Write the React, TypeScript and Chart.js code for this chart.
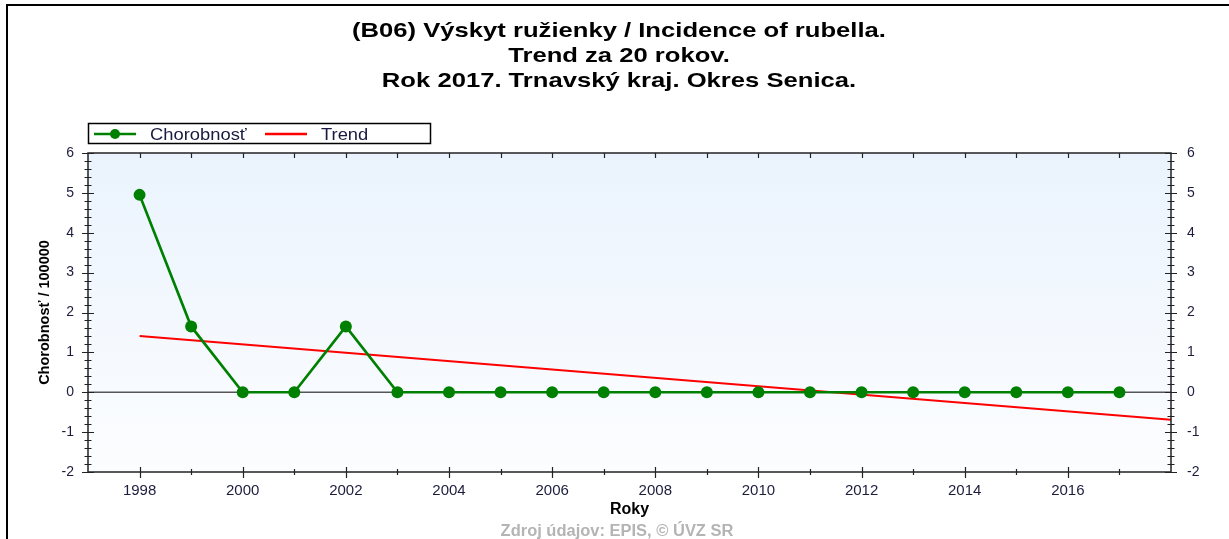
import React, { useEffect, useRef } from "react";
import { Chart, registerables } from "chart.js";

Chart.register(...registerables);

const years = [1998, 1999, 2000, 2001, 2002, 2003, 2004, 2005, 2006, 2007, 2008, 2009, 2010, 2011, 2012, 2013, 2014, 2015, 2016, 2017];
const incidence = [4.95, 1.65, 0, 0, 1.65, 0, 0, 0, 0, 0, 0, 0, 0, 0, 0, 0, 0, 0, 0, 0];
const trendYears = [1998, 2018];
const trendValues = [1.41, -0.69];

const titleLines = [
  "(B06) Výskyt ružienky / Incidence of rubella.",
  "Trend za 20 rokov.",
  "Rok 2017. Trnavský kraj. Okres Senica.",
];
const legendLabels = ["Chorobnosť", "Trend"];
const yAxisTitle = "Chorobnosť / 100000";
const xAxisTitle = "Roky";
const footerText = "Zdroj údajov: EPIS, © ÚVZ SR";

const FONT = "'Liberation Sans', Arial, sans-serif";
const TICK_COLOR = "#1c1c3c";
const GREEN = "#008000";
const RED = "#ff0000";

function stretchText(ctx: any, text: string, x: number, y: number, sx: number, align: string) {
  ctx.save();
  ctx.translate(x, y);
  ctx.scale(sx, 1);
  ctx.textAlign = align;
  ctx.fillText(text, 0, 0);
  ctx.restore();
}

const decorPlugin = {
  id: "decor",
  beforeDraw(chart: any) {
    const { ctx, chartArea: a, width } = chart;
    ctx.save();
    ctx.fillStyle = "#ffffff";
    ctx.fillRect(0, 0, width, chart.height);
    const g = ctx.createLinearGradient(0, a.top, 0, a.bottom);
    g.addColorStop(0, "#eaf3fd");
    g.addColorStop(1, "#fcfdff");
    ctx.fillStyle = g;
    ctx.fillRect(a.left, a.top, a.right - a.left, a.bottom - a.top);
    // outer border (left and top)
    ctx.strokeStyle = "#000";
    ctx.lineWidth = 2;
    ctx.beginPath();
    ctx.moveTo(7, chart.height);
    ctx.lineTo(7, 5);
    ctx.lineTo(width, 5);
    ctx.stroke();
    // zero line
    const y0 = chart.scales.y.getPixelForValue(0);
    ctx.strokeStyle = "#555";
    ctx.lineWidth = 1.5;
    ctx.beginPath();
    ctx.moveTo(a.left, y0);
    ctx.lineTo(a.right, y0);
    ctx.stroke();
    // title
    ctx.fillStyle = "#000";
    ctx.font = `bold 21px ${FONT}`;
    ctx.textBaseline = "middle";
    const ty = [31, 56, 81];
    titleLines.forEach((t, i) => stretchText(ctx, t, 619, ty[i], 1.22, "center"));
    // footer
    ctx.fillStyle = "#b4b4b4";
    ctx.font = `bold 16px ${FONT}`;
    stretchText(ctx, footerText, 617, 532, 1.03, "center");
    // legend
    ctx.strokeStyle = "#000";
    ctx.lineWidth = 1.5;
    ctx.strokeRect(88.5, 123.5, 342, 20);
    const ly = 134;
    ctx.strokeStyle = GREEN;
    ctx.lineWidth = 2.5;
    ctx.beginPath();
    ctx.moveTo(94, ly);
    ctx.lineTo(136, ly);
    ctx.stroke();
    ctx.fillStyle = GREEN;
    ctx.beginPath();
    ctx.arc(115, ly, 5, 0, Math.PI * 2);
    ctx.fill();
    ctx.strokeStyle = RED;
    ctx.beginPath();
    ctx.moveTo(265, ly);
    ctx.lineTo(307, ly);
    ctx.stroke();
    ctx.fillStyle = "#1a1a40";
    ctx.font = `17px ${FONT}`;
    stretchText(ctx, legendLabels[0], 150, ly + 1, 1.08, "left");
    stretchText(ctx, legendLabels[1], 321, ly + 1, 1.08, "left");
    ctx.restore();
  },
  afterDraw(chart: any) {
    const { ctx, chartArea: a } = chart;
    const ys = chart.scales.y;
    const xs = chart.scales.x;
    ctx.save();
    ctx.strokeStyle = "#222";
    ctx.lineWidth = 1.5;
    ctx.strokeRect(a.left, a.top, a.right - a.left, a.bottom - a.top);
    ctx.lineWidth = 1.2;
    ctx.beginPath();
    for (let i = 0; i <= 40; i++) {
      const v = -2 + i * 0.2;
      const py = Math.round(ys.getPixelForValue(v)) + 0.5;
      const major = i % 5 === 0;
      const h = major ? 6 : 3.5;
      ctx.moveTo(a.left - h, py);
      ctx.lineTo(a.left + h, py);
      ctx.moveTo(a.right - h, py);
      ctx.lineTo(a.right + h, py);
    }
    for (let yr = 1998; yr <= 2017; yr++) {
      const px = Math.round(xs.getPixelForValue(yr)) + 0.5;
      const major = yr % 2 === 0;
      ctx.moveTo(px, a.bottom - (major ? 5 : 3));
      ctx.lineTo(px, a.bottom + (major ? 6 : 3));
      ctx.moveTo(px, a.top);
      ctx.lineTo(px, a.top + 5);
    }
    ctx.stroke();
    ctx.restore();
  },
};

export default function App() {
  const ref = useRef<HTMLCanvasElement | null>(null);
  useEffect(() => {
    if (!ref.current) return;
    const chart = new Chart(ref.current, {
      type: "line",
      data: {
        datasets: [
          {
            label: legendLabels[0],
            data: years.map((x, i) => ({ x, y: incidence[i] })),
            borderColor: GREEN,
            backgroundColor: GREEN,
            borderWidth: 2.7,
            pointRadius: 6,
            pointBackgroundColor: GREEN,
            pointBorderColor: GREEN,
            pointBorderWidth: 0,
            yAxisID: "y",
          },
          {
            label: legendLabels[1],
            data: trendYears.map((x, i) => ({ x, y: trendValues[i] })),
            borderColor: RED,
            backgroundColor: RED,
            borderWidth: 2.2,
            pointRadius: 0,
            yAxisID: "y",
          },
        ],
      },
      options: {
        responsive: false,
        animation: false,
        devicePixelRatio: 1,
        layout: { padding: { top: 153, left: 0, right: 0, bottom: 0 } },
        plugins: { legend: { display: false }, title: { display: false }, tooltip: { enabled: false } },
        scales: {
          x: {
            type: "linear",
            position: "bottom",
            min: 1997,
            max: 2018,
            afterFit: (s: any) => { s.height = 67; },
            grid: { display: false, drawTicks: false },
            border: { display: false },
            ticks: {
              stepSize: 1,
              autoSkip: false,
              maxRotation: 0,
              padding: 10,
              color: TICK_COLOR,
              font: { family: FONT, size: 15 },
              callback: (v: any) => (Number(v) % 2 === 0 && v >= 1998 && v <= 2016 ? String(v) : ""),
            },
            title: {
              display: true,
              text: xAxisTitle,
              color: "#000",
              font: { family: FONT, size: 16, weight: "bold" },
              padding: { top: 0, bottom: 20 },
            },
          },
          y: {
            position: "left",
            min: -2,
            max: 6,
            afterFit: (s: any) => { s.width = 88; },
            grid: { display: false, drawTicks: false },
            border: { display: false },
            ticks: { stepSize: 1, padding: 14, color: TICK_COLOR, font: { family: FONT, size: 14 } },
            title: {
              display: true,
              text: yAxisTitle,
              color: "#000",
              font: { family: FONT, size: 14.5, weight: "bold" },
              padding: { top: 36, bottom: 0 },
            },
          },
          y2: {
            position: "right",
            min: -2,
            max: 6,
            afterFit: (s: any) => { s.width = 58; },
            grid: { display: false, drawTicks: false },
            border: { display: false },
            ticks: { stepSize: 1, padding: 16, color: TICK_COLOR, font: { family: FONT, size: 14 } },
          },
        },
      },
      plugins: [decorPlugin],
    } as any);
    return () => chart.destroy();
  }, []);
  return (
    <div style={{ position: "absolute", left: 0, top: 0, width: 1229, height: 539 }}>
      <canvas ref={ref} width={1229} height={539} />
    </div>
  );
}
